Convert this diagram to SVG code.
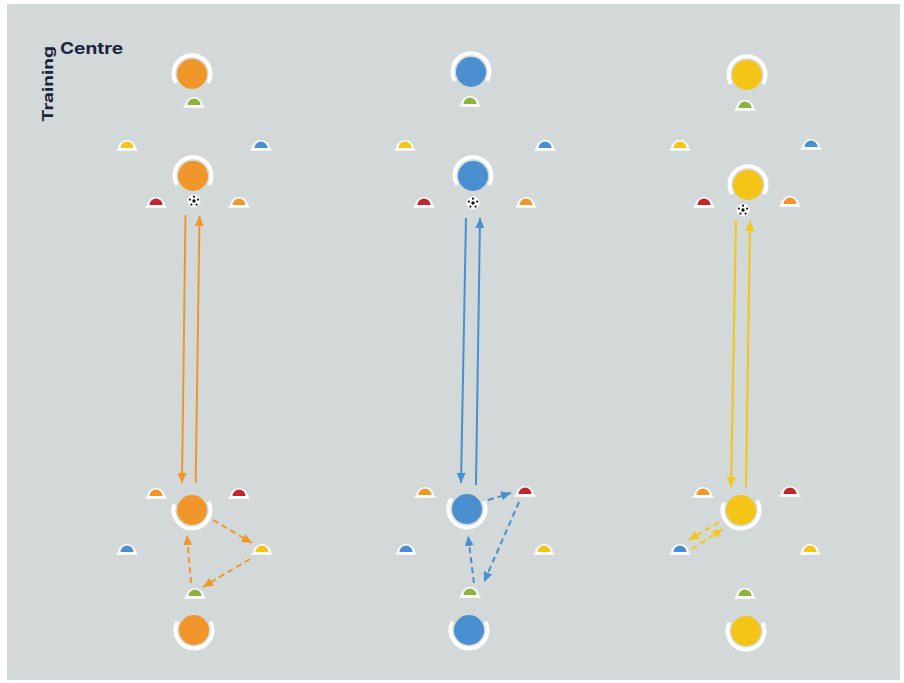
<svg xmlns="http://www.w3.org/2000/svg" xmlns:xlink="http://www.w3.org/1999/xlink" width="904" height="683" viewBox="0 0 904 683">
<style>
.ring{fill:none;stroke:#fff;stroke-width:4}
.o{fill:#f0962a}.b{fill:#4a8fcf}.y{fill:#f4c516}.r{fill:#c0272d}.g{fill:#8cb43c}
.so{stroke:#f0962a}.sb{stroke:#4a8fcf}.sy{stroke:#f4c516}
.solid{fill:none;stroke-width:2}
.dash{fill:none;stroke-width:2;stroke-dasharray:6 4}
.title{font-family:Inter,"DejaVu Sans",sans-serif;font-weight:700;fill:#1c2340}
</style>
<defs>
<path id="coneBase" d="M-10.5,0 H-9 A9,9 0 0 1 9,0 H10.5 V1.7 H-10.5 Z" fill="#fff"/>
<path id="dome" d="M-6.5,-1 A6.5,6.5 0 0 1 6.5,-1 Z"/>
<g id="ball"><circle r="6.5" fill="#fff" stroke="#ddd" stroke-width="0.6"/><circle r="1.7" fill="#111"/><circle cx="0" cy="-4.3" r="1.1" fill="#111"/><circle cx="4.1" cy="-1.4" r="1.1" fill="#111"/><circle cx="-4.1" cy="-1.4" r="1.1" fill="#111"/><circle cx="2.6" cy="3.6" r="1.1" fill="#111"/><circle cx="-2.6" cy="3.6" r="1.1" fill="#111"/></g>
<marker id="ao" markerUnits="userSpaceOnUse" markerWidth="10" markerHeight="9" refX="10" refY="4.5" orient="auto"><path d="M0,0 L10,4.5 L0,9 Z" fill="#f0962a"/></marker>
<marker id="ab" markerUnits="userSpaceOnUse" markerWidth="10" markerHeight="9" refX="10" refY="4.5" orient="auto"><path d="M0,0 L10,4.5 L0,9 Z" fill="#4a8fcf"/></marker>
<marker id="ay" markerUnits="userSpaceOnUse" markerWidth="10" markerHeight="9" refX="10" refY="4.5" orient="auto"><path d="M0,0 L10,4.5 L0,9 Z" fill="#f4c516"/></marker>
</defs>
<rect width="904" height="683" fill="#fff"/>
<rect x="7" y="4" width="893" height="676" fill="#d3d9d9"/>

<g id="title">
<text class="title" x="60" y="54" font-size="16" textLength="63" lengthAdjust="spacingAndGlyphs">Centre</text>
<text class="title" transform="translate(53,122) rotate(-90)" font-size="14.5" textLength="76" lengthAdjust="spacingAndGlyphs">Training</text>
</g>

<g id="connectors">
<line class="solid so" x1="185.5" y1="215" x2="182" y2="483" marker-end="url(#ao)"/>
<line class="solid so" x1="195.7" y1="483" x2="199.5" y2="216" marker-end="url(#ao)"/>
<line class="dash so" x1="213" y1="520" x2="252" y2="543" marker-end="url(#ao)"/>
<line class="dash so" x1="250" y1="559" x2="203" y2="587" marker-end="url(#ao)"/>
<line class="dash so" x1="191" y1="583" x2="187" y2="535" marker-end="url(#ao)"/>

<line class="solid sb" x1="466" y1="218" x2="461" y2="483" marker-end="url(#ab)"/>
<line class="solid sb" x1="476" y1="485" x2="480" y2="218" marker-end="url(#ab)"/>
<line class="dash sb" x1="488" y1="500" x2="511" y2="493" marker-end="url(#ab)"/>
<line class="dash sb" x1="519" y1="502" x2="484" y2="582" marker-end="url(#ab)"/>
<line class="dash sb" x1="474" y1="583" x2="468" y2="536" marker-end="url(#ab)"/>

<line class="solid sy" x1="736" y1="220" x2="731" y2="487" marker-end="url(#ay)"/>
<line class="solid sy" x1="746" y1="487" x2="750" y2="221" marker-end="url(#ay)"/>
<line class="dash sy" x1="719" y1="522" x2="689" y2="540" marker-end="url(#ay)"/>
<line class="dash sy" x1="692" y1="549" x2="723" y2="529" marker-end="url(#ay)"/>
</g>

<!-- Column 1 players -->
<g id="p1a" transform="translate(192,74)"><path class="ring" d="M-16,9 A18.5,18.5 0 1 1 16,9"/><circle class="o" r="15"/></g>
<g id="p1b" transform="translate(193,176)"><path class="ring" d="M-16,9 A18.5,18.5 0 1 1 16,9"/><circle class="o" r="15"/></g>
<g id="p1c" transform="translate(192,510)"><path class="ring" d="M16.5,-8.4 A18.5,18.5 0 1 1 -17.6,-5.7"/><circle class="o" r="15"/></g>
<g id="p1d" transform="translate(194,630)"><path class="ring" d="M16.5,-8.4 A18.5,18.5 0 1 1 -16.5,-8.4"/><circle class="o" r="15"/></g>
<!-- Column 2 players -->
<g id="p2a" transform="translate(471,72)"><path class="ring" d="M-16,9 A18.5,18.5 0 1 1 16,9"/><circle class="b" r="15"/></g>
<g id="p2b" transform="translate(473,176)"><path class="ring" d="M-16,9 A18.5,18.5 0 1 1 16,9"/><circle class="b" r="15"/></g>
<g id="p2c" transform="translate(467,509)"><path class="ring" d="M16.9,-7.5 A18.5,18.5 0 1 1 -15.2,-10.6"/><circle class="b" r="15"/></g>
<g id="p2d" transform="translate(469,630)"><path class="ring" d="M16.5,-8.4 A18.5,18.5 0 1 1 -16.5,-8.4"/><circle class="b" r="15"/></g>
<!-- Column 3 players -->
<g id="p3a" transform="translate(747,75)"><path class="ring" d="M-16,9 A18.5,18.5 0 1 1 16,9"/><circle class="y" r="15"/></g>
<g id="p3b" transform="translate(748,185)"><path class="ring" d="M-16,9 A18.5,18.5 0 1 1 16,9"/><circle class="y" r="15"/></g>
<g id="p3c" transform="translate(741,510)"><path class="ring" d="M15.9,-9.5 A18.5,18.5 0 1 1 -16.9,-7.5"/><circle class="y" r="15"/></g>
<g id="p3d" transform="translate(746,631)"><path class="ring" d="M16.5,-8.4 A18.5,18.5 0 1 1 -16.5,-8.4"/><circle class="y" r="15"/></g>

<!-- Cones column 1 -->
<g id="c1" transform="translate(194,106)"><use xlink:href="#coneBase"/><use xlink:href="#dome" class="g"/></g>
<g id="c2" transform="translate(127,149)"><use xlink:href="#coneBase"/><use xlink:href="#dome" class="y"/></g>
<g id="c3" transform="translate(261,149)"><use xlink:href="#coneBase"/><use xlink:href="#dome" class="b"/></g>
<g id="c4" transform="translate(156,206)"><use xlink:href="#coneBase"/><use xlink:href="#dome" class="r"/></g>
<g id="c5" transform="translate(239,206)"><use xlink:href="#coneBase"/><use xlink:href="#dome" class="o"/></g>
<g id="c6" transform="translate(156,497)"><use xlink:href="#coneBase"/><use xlink:href="#dome" class="o"/></g>
<g id="c7" transform="translate(239,497)"><use xlink:href="#coneBase"/><use xlink:href="#dome" class="r"/></g>
<g id="c8" transform="translate(127,553)"><use xlink:href="#coneBase"/><use xlink:href="#dome" class="b"/></g>
<g id="c9" transform="translate(262,553)"><use xlink:href="#coneBase"/><use xlink:href="#dome" class="y"/></g>
<g id="c10" transform="translate(195,597)"><use xlink:href="#coneBase"/><use xlink:href="#dome" class="g"/></g>
<!-- Cones column 2 -->
<g id="c11" transform="translate(470,105)"><use xlink:href="#coneBase"/><use xlink:href="#dome" class="g"/></g>
<g id="c12" transform="translate(405,149)"><use xlink:href="#coneBase"/><use xlink:href="#dome" class="y"/></g>
<g id="c13" transform="translate(545,149)"><use xlink:href="#coneBase"/><use xlink:href="#dome" class="b"/></g>
<g id="c14" transform="translate(424,206)"><use xlink:href="#coneBase"/><use xlink:href="#dome" class="r"/></g>
<g id="c15" transform="translate(526,206)"><use xlink:href="#coneBase"/><use xlink:href="#dome" class="o"/></g>
<g id="c16" transform="translate(425,496)"><use xlink:href="#coneBase"/><use xlink:href="#dome" class="o"/></g>
<g id="c17" transform="translate(525,495)"><use xlink:href="#coneBase"/><use xlink:href="#dome" class="r"/></g>
<g id="c18" transform="translate(406,553)"><use xlink:href="#coneBase"/><use xlink:href="#dome" class="b"/></g>
<g id="c19" transform="translate(544,553)"><use xlink:href="#coneBase"/><use xlink:href="#dome" class="y"/></g>
<g id="c20" transform="translate(470,596)"><use xlink:href="#coneBase"/><use xlink:href="#dome" class="g"/></g>
<!-- Cones column 3 -->
<g id="c21" transform="translate(745,109)"><use xlink:href="#coneBase"/><use xlink:href="#dome" class="g"/></g>
<g id="c22" transform="translate(680,149)"><use xlink:href="#coneBase"/><use xlink:href="#dome" class="y"/></g>
<g id="c23" transform="translate(811,148)"><use xlink:href="#coneBase"/><use xlink:href="#dome" class="b"/></g>
<g id="c24" transform="translate(704,206)"><use xlink:href="#coneBase"/><use xlink:href="#dome" class="r"/></g>
<g id="c25" transform="translate(790,205)"><use xlink:href="#coneBase"/><use xlink:href="#dome" class="o"/></g>
<g id="c26" transform="translate(703,496)"><use xlink:href="#coneBase"/><use xlink:href="#dome" class="o"/></g>
<g id="c27" transform="translate(790,495)"><use xlink:href="#coneBase"/><use xlink:href="#dome" class="r"/></g>
<g id="c28" transform="translate(680,553)"><use xlink:href="#coneBase"/><use xlink:href="#dome" class="b"/></g>
<g id="c29" transform="translate(810,553)"><use xlink:href="#coneBase"/><use xlink:href="#dome" class="y"/></g>
<g id="c30" transform="translate(745,597)"><use xlink:href="#coneBase"/><use xlink:href="#dome" class="g"/></g>

<!-- Balls -->
<g id="ball1" transform="translate(194,201)"><use xlink:href="#ball"/></g>
<g id="ball2" transform="translate(473,203)"><use xlink:href="#ball"/></g>
<g id="ball3" transform="translate(743,210)"><use xlink:href="#ball"/></g>
</svg>
